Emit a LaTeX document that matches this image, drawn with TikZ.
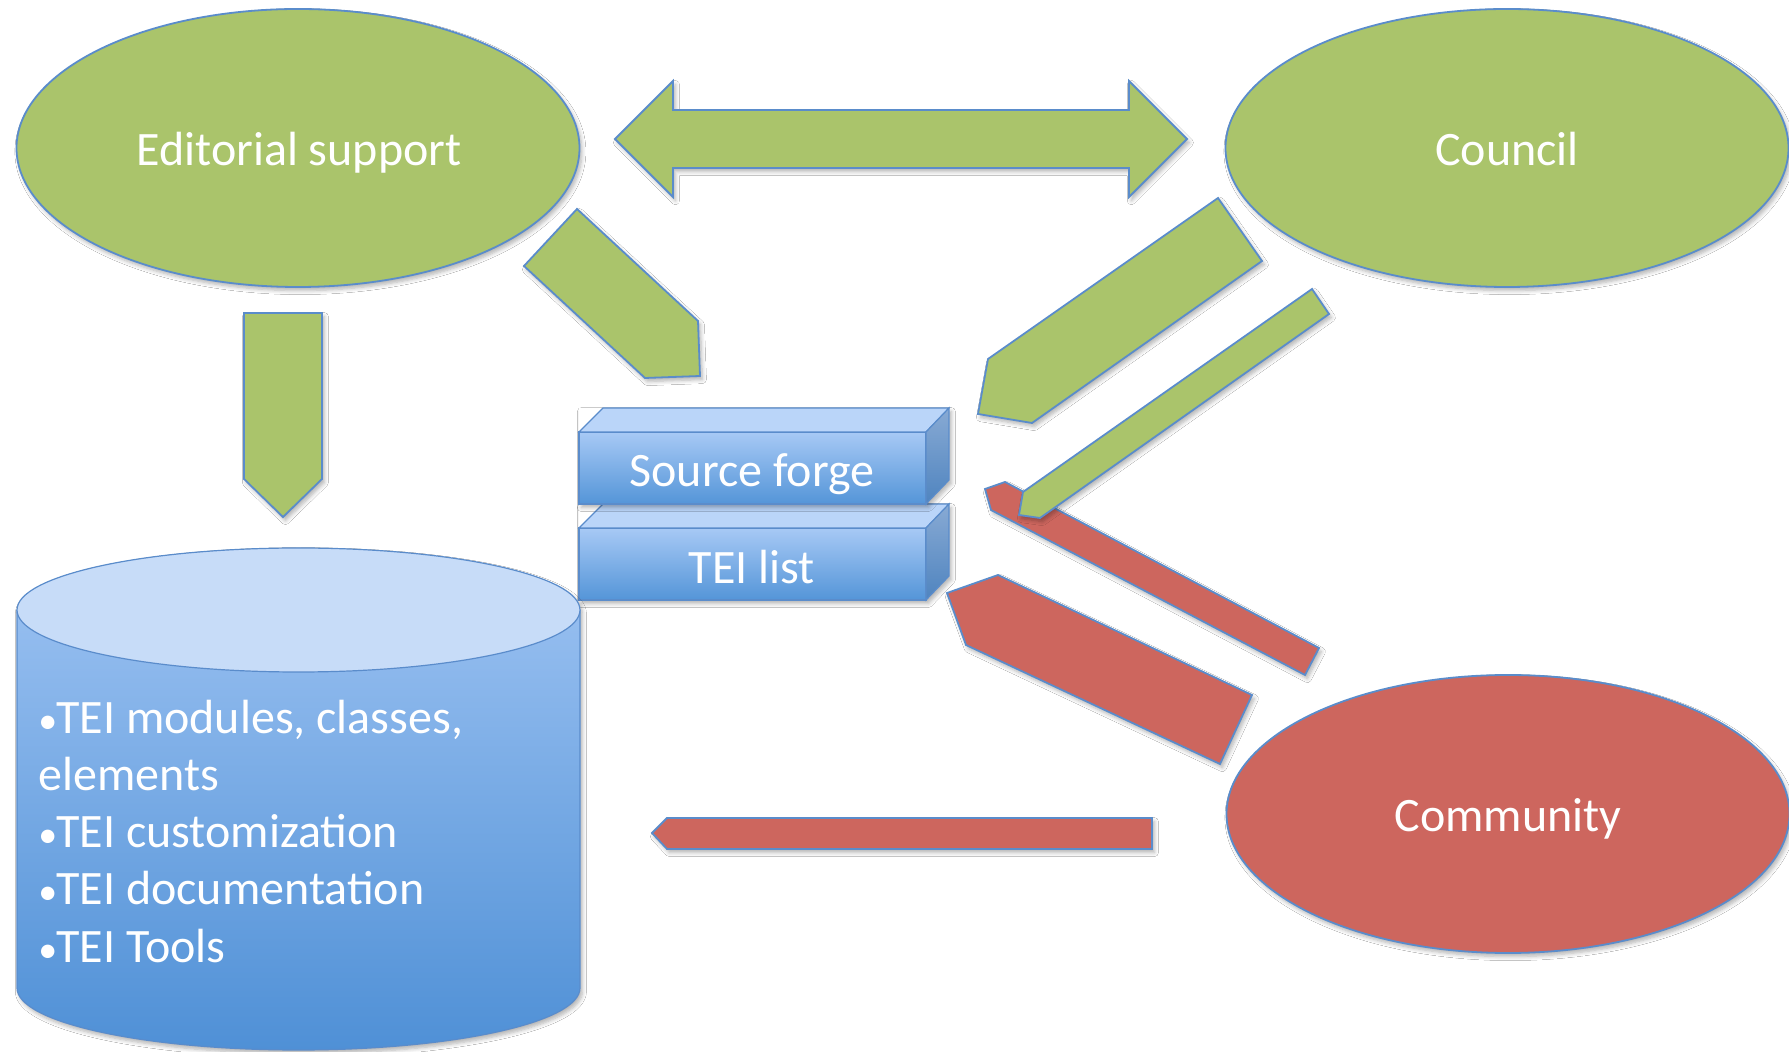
\documentclass[tikz,border=0pt]{standalone}
\usepackage{fontspec}
\setmainfont{Carlito}
\usetikzlibrary{shapes.geometric,shadows.blur}
\definecolor{tgreen}{HTML}{AAC46B}
\definecolor{tred}{HTML}{CD665E}
\definecolor{tline}{HTML}{5A8CCB}
\definecolor{cyltop}{HTML}{C7DCF8}
\definecolor{cylhi}{HTML}{9FC4F3}
\definecolor{cyllo}{HTML}{4F90D6}
\definecolor{boxhi}{HTML}{A7C9F5}
\definecolor{boxlo}{HTML}{5495D8}
\definecolor{boxtop}{HTML}{BAD5F9}
\definecolor{sidehi}{HTML}{88AAD4}
\definecolor{sidelo}{HTML}{4F84BF}
\newcommand{\tbul}{{\fontsize{19}{19}\selectfont •}\kern-0.5pt}
\tikzset{
  shd/.style={blur shadow={shadow xshift=1.2pt, shadow yshift=-1.8pt, shadow blur steps=6, shadow blur radius=2pt, shadow opacity=30}},
  outl/.style={draw=tline, line width=0.9pt, line join=miter},
  garrow/.style={outl, fill=tgreen, shd},
  rarrow/.style={outl, fill=tred, shd},
  blob/.style={ellipse, outl, minimum width=281.5pt, minimum height=139pt, inner sep=0pt, shd},
  lbl/.style={text=white, font=\fontsize{24}{28.5}\selectfont, anchor=base, inner sep=0pt},
  lln/.style={lbl, anchor=base west},
  face/.style={draw=tline, line width=0.6pt, line join=miter},
}
\begin{document}
\begin{tikzpicture}[x=0.5pt,y=-0.5pt]
\useasboundingbox (0,0) rectangle (1789,1052);
\fill[white] (0,0) rectangle (1789,1052);

% ellipses
\node[blob, fill=tgreen] (ed) at (298,148) {};
\node[blob, fill=tgreen] (co) at (1507,148) {};
\node[blob, fill=tred] (cm) at (1508,814) {};
\node[lbl] (edt) at (299,166) {Editorial support};
\node[lbl] (cot) at (1507,166) {Council};
\node[lbl] (cmt) at (1508,832) {Community};

% double arrow
\draw[garrow] (615,139) -- (673,81) -- (673,110) -- (1129,110) -- (1129,81) -- (1187,139)
  -- (1129,197) -- (1129,168) -- (673,168) -- (673,197) -- cycle;
% down arrow
\draw[garrow] (244,313) -- (322,313) -- (322,479) -- (283,517) -- (244,479) -- cycle;
% editorial diagonal
\draw[garrow] (577,209) -- (698,321) -- (700,376) -- (645,378) -- (524,266) -- cycle;
% council big
\draw[garrow] (1218,198) -- (1262,261) -- (1032,423) -- (978,414) -- (988,359) -- cycle;
% red thin
\draw[rarrow] (1319,648) -- (1005,482) -- (985,489) -- (991,510) -- (1305,675) -- cycle;
% green thin
\draw[garrow] (1312,289) -- (1329,314) -- (1040,518) -- (1019,515) -- (1023,492) -- cycle;
% red big
\draw[rarrow] (1252,695) -- (998,575) -- (947,593) -- (966,645) -- (1220,764) -- cycle;
% red horizontal
\draw[rarrow] (652,833) -- (667,818) -- (1152,818) -- (1152,849) -- (667,849) -- cycle;

% lower box (TEI list)
\fill[shd, white] (579,504) -- (949,504) -- (949,576) -- (926,600) -- (579,600) -- cycle;
\shade[top color=boxhi, bottom color=boxlo] (579,528) rectangle (926,600);
\draw[face] (579,528) rectangle (926,600);
\draw[face, fill=boxtop] (579,528) -- (603,504) -- (949,504) -- (926,528) -- cycle;
\shade[top color=sidehi, bottom color=sidelo] (926,528) -- (949,504) -- (949,576) -- (926,600) -- cycle;
\draw[face] (926,528) -- (949,504) -- (949,576) -- (926,600) -- cycle;
\node[lbl] (tl) at (752,584) {TEI list};

% upper box (Source forge)
\fill[shd, white] (579,408) -- (949,408) -- (949,480) -- (926,504) -- (579,504) -- cycle;
\shade[top color=boxhi, bottom color=boxlo] (579,432) rectangle (926,504);
\draw[face] (579,432) rectangle (926,504);
\draw[face, fill=boxtop] (579,432) -- (603,408) -- (949,408) -- (926,432) -- cycle;
\shade[top color=sidehi, bottom color=sidelo] (926,432) -- (949,408) -- (949,480) -- (926,504) -- cycle;
\draw[face] (926,432) -- (949,408) -- (949,480) -- (926,504) -- cycle;
\node[lbl] (sf) at (752,487) {Source forge};

% cylinder
\path[shd, fill=white] (17,610) -- (17,988) arc[start angle=180, end angle=0, x radius=281.5, y radius=62]
  -- (580,610) arc[start angle=0, end angle=-180, x radius=281.5, y radius=62] -- cycle;
\shade[top color=cylhi, bottom color=cyllo] (17,610) -- (17,988) arc[start angle=180, end angle=0, x radius=281.5, y radius=62]
  -- (580,610) arc[start angle=0, end angle=-180, x radius=281.5, y radius=62] -- cycle;
\draw[face] (17,610) -- (17,988) arc[start angle=180, end angle=0, x radius=281.5, y radius=62]
  -- (580,610);
\draw[face, fill=cyltop] (298.5,610) ellipse[x radius=281.5, y radius=62];
\node[lln] (c1) at (38,734) {\tbul TEI modules, classes,};
\node[lln] (c2) at (38,791) {elements};
\node[lln] (c3) at (38,848) {\tbul TEI customization};
\node[lln] (c4) at (38,905) {\tbul TEI documentation};
\node[lln] (c5) at (38,962) {\tbul TEI Tools};
\end{tikzpicture}
\end{document}
